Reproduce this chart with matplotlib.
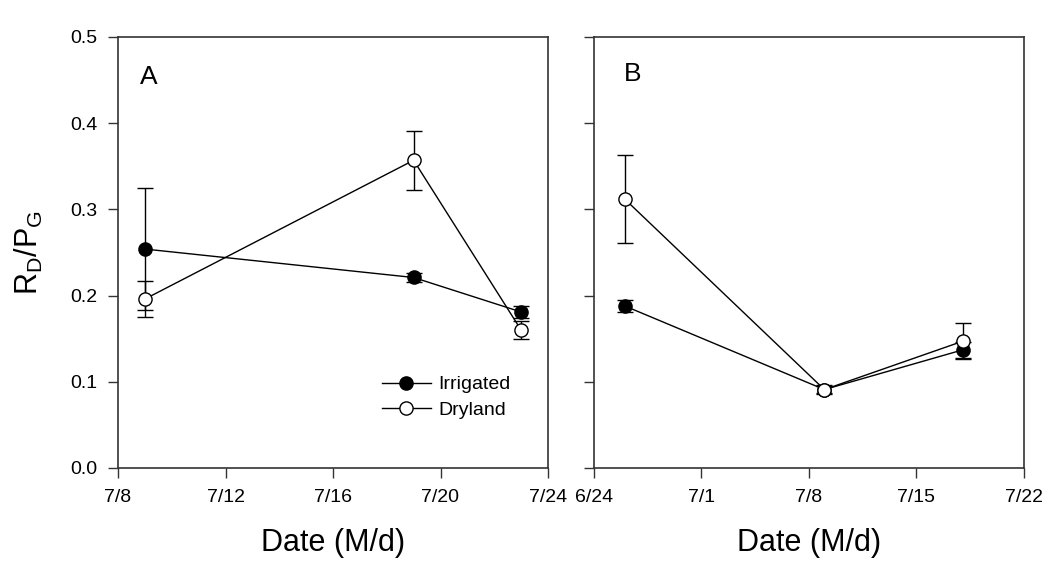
import datetime as dt
import matplotlib
matplotlib.use("Agg")
import matplotlib.pyplot as plt
import matplotlib.dates as mdates
from matplotlib.ticker import FuncFormatter, MultipleLocator

plt.rcParams['font.family'] = ['Liberation Sans', 'DejaVu Sans']
plt.rcParams['mathtext.fontset'] = 'custom'
plt.rcParams['mathtext.rm'] = 'Liberation Sans'
plt.rcParams['mathtext.it'] = 'Liberation Sans:italic'

YEAR = 2014

# Panel A
dates_a = ["7/9", "7/19", "7/23"]
irr_a = [0.254, 0.221, 0.181]
irr_a_err = [0.071, 0.005, 0.007]
dry_a = [0.196, 0.357, 0.160]
dry_a_err = [0.021, 0.034, 0.010]
ticks_a = ["7/8", "7/12", "7/16", "7/20", "7/24"]

# Panel B
dates_b = ["6/26", "7/9", "7/18"]
irr_b = [0.188, 0.091, 0.137]
irr_b_err = [0.007, 0.005, 0.009]
dry_b = [0.312, 0.091, 0.147]
dry_b_err = [0.051, 0.004, 0.021]
ticks_b = ["6/24", "7/1", "7/8", "7/15", "7/22"]

series_labels = ["Irrigated", "Dryland"]
panel_letters = ["A", "B"]


def to_date(s):
    m, d = s.split("/")
    return dt.datetime(YEAR, int(m), int(d))


def md_fmt(x, pos=None):
    d = mdates.num2date(x)
    return f"{d.month}/{d.day}"


fig = plt.figure(figsize=(10.61, 5.69), dpi=100)
ax_a = fig.add_axes([118 / 1061, 1 - 468 / 569, 430 / 1061, 431 / 569])
ax_b = fig.add_axes([594 / 1061, 1 - 468 / 569, 430 / 1061, 431 / 569])

spine_col = "#333333"
line_kw = dict(color="black", lw=1.0, capsize=6, capthick=1.0, elinewidth=1.0,
               markersize=9.5, markeredgewidth=1.0, markeredgecolor="black")

panels = [
    (ax_a, dates_a, irr_a, irr_a_err, dry_a, dry_a_err, ticks_a),
    (ax_b, dates_b, irr_b, irr_b_err, dry_b, dry_b_err, ticks_b),
]

for i, (ax, dates, irr, irr_err, dry, dry_err, ticks) in enumerate(panels):
    x = [to_date(s) for s in dates]
    ax.errorbar(x, irr, yerr=irr_err, fmt="-o", markerfacecolor="black",
                label=series_labels[0], zorder=3, **line_kw)
    ax.errorbar(x, dry, yerr=dry_err, fmt="-o", markerfacecolor="white",
                label=series_labels[1], zorder=4, **line_kw)

    tick_dates = [to_date(s) for s in ticks]
    ax.set_xlim(tick_dates[0], tick_dates[-1])
    ax.set_xticks(tick_dates)
    ax.xaxis.set_major_formatter(FuncFormatter(md_fmt))
    ax.set_ylim(0, 0.5)
    ax.yaxis.set_major_locator(MultipleLocator(0.1))
    ax.yaxis.set_major_formatter(FuncFormatter(lambda v, p: f"{v:.1f}"))

    ax.tick_params(direction="out", length=7, width=1.0, color=spine_col,
                   labelsize=14, pad=8, top=False, right=False)
    for sp in ax.spines.values():
        sp.set_linewidth(1.2)
        sp.set_color(spine_col)
    ax.set_xlabel("Date (M/d)", fontsize=22, labelpad=16)
    ax.set_facecolor("white")

ax_b.tick_params(labelleft=False)
ax_a.set_ylabel(r"$\mathrm{R_D/P_G}$", fontsize=22, labelpad=18)

ax_a.text(0.051, 0.891, panel_letters[0], transform=ax_a.transAxes, fontsize=19,
          ha="left", va="baseline")
ax_b.text(0.07, 0.899, panel_letters[1], transform=ax_b.transAxes, fontsize=19,
          ha="left", va="baseline")

h, l = ax_a.get_legend_handles_labels()
h = [hh[0] for hh in h]
ax_a.legend(h, l, loc="center left", bbox_to_anchor=(0.614, 0.164), frameon=False,
            fontsize=14, handlelength=2.5, handletextpad=0.4, labelspacing=0.4,
            borderpad=0, borderaxespad=0)

fig.savefig("out.png", dpi=100, facecolor="white")
